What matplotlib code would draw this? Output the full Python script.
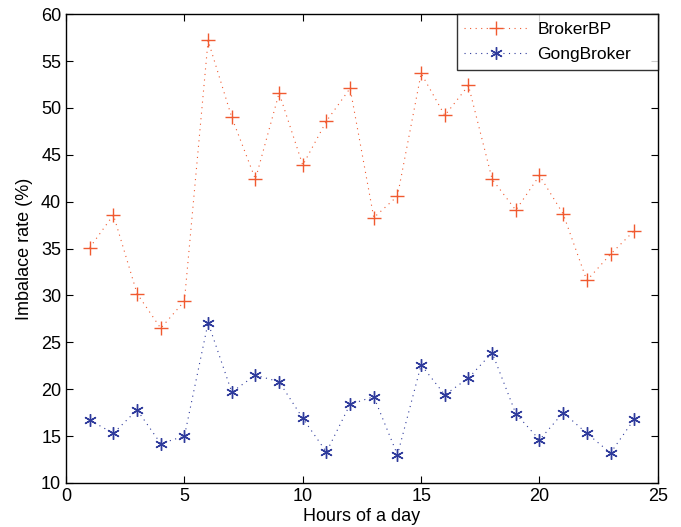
import matplotlib
matplotlib.use("Agg")
import matplotlib.pyplot as plt

plt.rcParams['font.family'] = ['Liberation Sans', 'DejaVu Sans']

hours = list(range(1, 25))
broker_bp = [35.1, 38.6, 30.2, 26.5, 29.4, 57.2, 49.0, 42.4, 51.6, 43.9, 48.6, 52.1,
             38.3, 40.6, 53.7, 49.2, 52.4, 42.4, 39.1, 42.8, 38.7, 31.6, 34.4, 36.9]
gong_broker = [16.7, 15.3, 17.8, 14.2, 15.0, 27.1, 19.7, 21.5, 20.8, 16.9, 13.3, 18.4,
               19.2, 13.0, 22.6, 19.4, 21.2, 23.9, 17.4, 14.6, 17.5, 15.3, 13.2, 16.8]
xticks = [0, 5, 10, 15, 20, 25]
yticks = [10, 15, 20, 25, 30, 35, 40, 45, 50, 55, 60]

fig = plt.figure(figsize=(6.81, 5.27), dpi=100)
ax = fig.add_axes([0.097, 0.0835, 0.869, 0.8895])

ax.plot(hours, broker_bp, linestyle=(0, (1, 4)), color='#f05a30', linewidth=0.8,
        marker='+', markersize=10, markeredgewidth=1.0, label='BrokerBP')
ax.plot(hours, gong_broker, linestyle=(0, (1, 4)), color='#2f3b9c', linewidth=0.8,
        marker=(6, 2, 0), markersize=9, markeredgewidth=1.0, label='GongBroker')

ax.set_xlim(0, 25)
ax.set_ylim(10, 60)
ax.set_xticks(xticks)
ax.set_yticks(yticks)
ax.tick_params(direction='in', top=True, right=True, labelsize=13, length=5, width=0.8)
for s in ax.spines.values():
    s.set_linewidth(1.0)
ax.set_xlabel('Hours of a day', fontsize=13, labelpad=2)
ax.set_ylabel('Imbalace rate (%)', fontsize=13, labelpad=6)

leg = ax.legend(loc='upper right', bbox_to_anchor=(0.66, 0.0, 0.34, 1.0), mode='expand',
                fontsize=12.5, frameon=True, fancybox=False,
                edgecolor='black', borderaxespad=0, handlelength=3.6, handletextpad=0.6,
                borderpad=0.45, labelspacing=0.55)
leg.get_frame().set_linewidth(1.0)

fig.savefig('out.png', dpi=100)
